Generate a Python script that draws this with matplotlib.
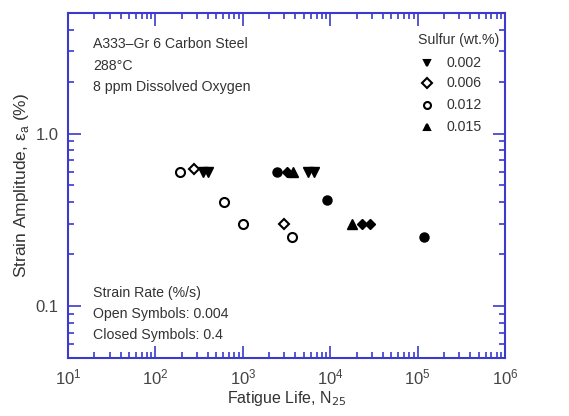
import matplotlib
matplotlib.use("Agg")
import matplotlib.pyplot as plt
from matplotlib.ticker import LogLocator, FixedLocator, NullFormatter

plt.rcParams['font.family'] = ['Liberation Sans', 'DejaVu Sans']

# Data: (fatigue life, strain amplitude) per sulfur content and strain rate
s002_closed_N = [350, 400, 5570, 6530]
s002_closed_e = [0.60, 0.60, 0.60, 0.60]

s006_open_N = [275, 2960]
s006_open_e = [0.62, 0.30]
s006_closed_N = [3200, 23100, 28500]
s006_closed_e = [0.60, 0.30, 0.30]

s012_open_N = [190, 610, 1000, 3650]
s012_open_e = [0.60, 0.40, 0.30, 0.25]
s012_closed_N = [2460, 9190, 118000]
s012_closed_e = [0.60, 0.41, 0.25]

s015_closed_N = [3750, 17700]
s015_closed_e = [0.60, 0.30]

legend_labels = ['0.002', '0.006', '0.012', '0.015']

blue = '#3a3acc'
txt = '#333333'

fig = plt.figure(figsize=(5.69, 4.16), dpi=100)
ax = fig.add_axes([0.1195, 0.1394, 0.7680, 0.8296])
ax.set_xscale('log')
ax.set_yscale('log')
ax.set_xlim(10, 1e6)
ax.set_ylim(0.05, 5)

ms = 6.5
ax.plot(s002_closed_N, s002_closed_e, 'v', color='k', ms=ms, ls='none')
ax.plot(s006_open_N, s006_open_e, 'D', mfc='white', mec='k', mew=1.5, ms=ms-1.5, ls='none')
ax.plot(s006_closed_N, s006_closed_e, 'D', color='k', ms=ms-1.5, ls='none')
ax.plot(s012_open_N, s012_open_e, 'o', mfc='white', mec='k', mew=1.5, ms=ms, ls='none')
ax.plot(s012_closed_N, s012_closed_e, 'o', color='k', ms=ms, ls='none')
ax.plot(s015_closed_N, s015_closed_e, '^', color='k', ms=ms, ls='none')

for sp in ax.spines.values():
    sp.set_color(blue)
    sp.set_linewidth(1.5)

ax.xaxis.set_major_locator(LogLocator(base=10, numticks=10))
ax.xaxis.set_minor_locator(LogLocator(base=10, subs=range(2, 10), numticks=20))
ax.xaxis.set_minor_formatter(NullFormatter())
ax.yaxis.set_major_locator(FixedLocator([0.1, 1.0]))
ax.set_yticklabels(['0.1', '1.0'])
ax.yaxis.set_minor_locator(LogLocator(base=10, subs=range(2, 10), numticks=20))
ax.yaxis.set_minor_formatter(NullFormatter())

ax.tick_params(which='both', direction='in', top=True, right=True, color=blue,
               labelcolor='#444444', labelsize=12, width=1.2)
ax.tick_params(which='major', length=9, pad=7)
ax.tick_params(which='minor', length=4.5)

ax.set_xlabel('Fatigue Life, N$_{25}$', fontsize=11.5, color=txt, labelpad=1)
ax.set_ylabel('Strain Amplitude, \u03b5$_{\\mathregular{a}}$ (%)', fontsize=12.5, color=txt, labelpad=3)

fs = 10.2
x0 = 0.057
for yy, s in zip([0.910, 0.846, 0.786], ['A333\u2013Gr 6 Carbon Steel', '288\u00b0C', '8 ppm Dissolved Oxygen']):
    ax.text(x0, yy, s, transform=ax.transAxes, fontsize=fs, color=txt, va='center', ha='left')
for yy, s in zip([0.188, 0.128, 0.067], ['Strain Rate (%/s)', 'Open Symbols: 0.004', 'Closed Symbols: 0.4']):
    ax.text(x0, yy, s, transform=ax.transAxes, fontsize=fs, color=txt, va='center', ha='left')

# Legend drawn manually as text + markers in axes coordinates
ax.text(0.895, 0.922, 'Sulfur (wt.%)', transform=ax.transAxes, fontsize=fs, color=txt,
        va='center', ha='center')
leg_markers = [('v', 'k', 'k'), ('D', 'white', 'k'), ('o', 'white', 'k'), ('^', 'k', 'k')]
leg_y = [0.855, 0.797, 0.733, 0.670]
for lab, (m, fc, ec), yy in zip(legend_labels, leg_markers, leg_y):
    ax.plot([0.822], [yy], m, mfc=fc, mec=ec, mew=1.5, ms=5, transform=ax.transAxes, clip_on=False)
    ax.text(0.867, yy, lab, transform=ax.transAxes, fontsize=fs, color=txt, va='center', ha='left')

fig.savefig('out.png', dpi=100)
